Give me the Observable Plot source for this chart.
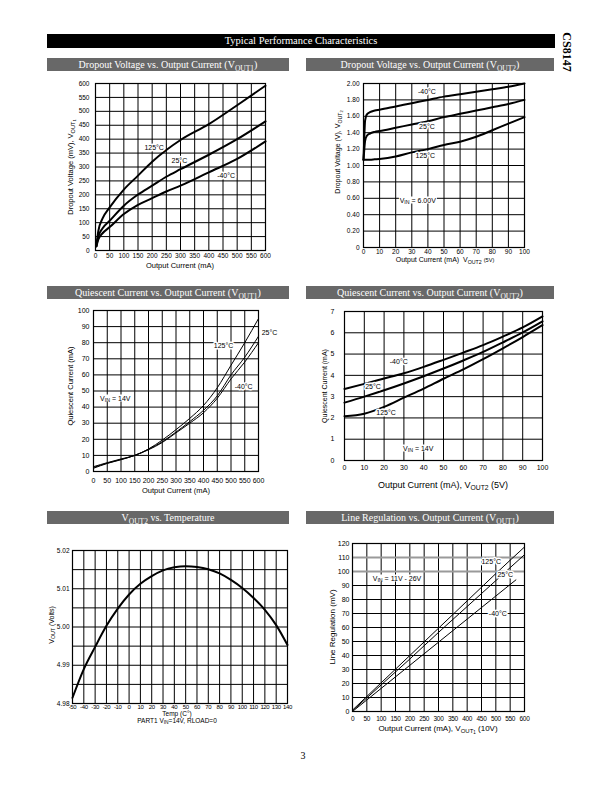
<!DOCTYPE html>
<html><head><meta charset="utf-8">
<script src="https://cdn.jsdelivr.net/npm/d3@7"></script>
<script src="https://cdn.jsdelivr.net/npm/@observablehq/plot@0.6"></script>
<style>
body{margin:0;background:#fff;}
#page{position:relative;width:612px;height:792px;overflow:hidden;font-family:"Liberation Sans",Arial,sans-serif;color:#000;}
.bar{position:absolute;background:#686868;color:#fff;font-family:"Liberation Serif","DejaVu Serif",serif;font-size:10px;text-align:center;line-height:13px;height:13px;white-space:nowrap;}
.hdr{position:absolute;background:#000;color:#fff;font-family:"Liberation Serif",serif;font-size:10.5px;text-align:center;line-height:14px;height:14px;}
.lbl{position:absolute;font-size:7.5px;white-space:nowrap;line-height:1;color:#000;}
.ylbl{transform:translate(-50%,-50%) rotate(-90deg);}
.xlbl{transform:translate(-50%,-50%);}
.note{position:absolute;font-size:7px;white-space:nowrap;line-height:1;background:#fff;padding:0 1px;transform:translate(-50%,-50%);color:#000;}
sub{font-size:75%;vertical-align:-0.35em;line-height:0;}
svg{position:absolute;}
svg.tight g[aria-label="x-axis tick label"] text{letter-spacing:-0.35px;}
</style></head><body><div id="page"></div>
<script>
// ---------- Chart 1: Dropout Voltage vs Output Current (VOUT1) ----------
const c1Current = [3,10,25,50,100,150,200,250,300,400,500,600];
const c1Hot  = [15,70,115,155,219,269,319,361,397,454,522,592];   // 125°C
const c1Room = [15,50,80,107,161,201,233,265,292,344,400,464];    // 25°C
const c1Cold = [15,40,62,84,131,164,188,212,233,281,329,392];     // -40°C
const c1XTicks = [0,50,100,150,200,250,300,350,400,450,500,550,600];
const c1YTicks = [0,50,100,150,200,250,300,350,400,450,500,550,600];

// ---------- Chart 2: Dropout Voltage vs Output Current (VOUT2) ----------
const c2Current = [0,0.5,1,2,4,7,10,20,30,40,50,60,70,80,90,100];
const c2Cold = [1.07,1.35,1.55,1.62,1.65,1.67,1.68,1.72,1.76,1.80,1.84,1.87,1.90,1.93,1.96,2.00];
const c2Room = [1.07,1.20,1.30,1.36,1.39,1.41,1.42,1.46,1.50,1.54,1.59,1.63,1.67,1.71,1.75,1.80];
const c2Hot  = [1.07,1.07,1.07,1.07,1.07,1.075,1.08,1.11,1.16,1.20,1.25,1.29,1.35,1.43,1.51,1.59];
const c2XTicks = [0,10,20,30,40,50,60,70,80,90,100];
const c2YTicks = [0,0.2,0.4,0.6,0.8,1.0,1.2,1.4,1.6,1.8,2.0];

// ---------- Chart 3: Quiescent Current vs Output Current (VOUT1) ----------
const c3Current = [0,50,100,150,200,250,300,350,400,450,500,550,600];
const c3Hot  = [3,5.5,7.8,10,14,19.5,26,33,41,52,66,80,95];
const c3Room = [2.5,5.2,7.5,10,13.8,18.5,24.5,31,38,47,60,71,84];
const c3Cold = [2,5,7.3,10,13.5,18,24,30,36.5,45.5,57.5,68,80];
const c3XTicks = [0,50,100,150,200,250,300,350,400,450,500,550,600];
const c3YTicks = [0,10,20,30,40,50,60,70,80,90,100];

// ---------- Chart 4: Quiescent Current vs Output Current (VOUT2) ----------
const c4Current = [0,10,20,30,40,50,60,70,80,90,100];
const c4Cold = [3.36,3.6,3.85,4.1,4.4,4.73,5.07,5.42,5.82,6.25,6.77];
const c4Room = [2.72,3.0,3.3,3.62,3.96,4.32,4.7,5.1,5.55,6.02,6.54];
const c4Hot  = [2.08,2.2,2.52,2.95,3.38,3.84,4.28,4.76,5.27,5.8,6.36];
const c4XTicks = [0,10,20,30,40,50,60,70,80,90,100];
const c4YTicks = [0,1,2,3,4,5,6,7];

// ---------- Chart 5: VOUT2 vs Temperature ----------
const c5Temp = [-50,-40,-30,-20,-10,0,10,20,30,40,50,60,70,80,90,100,110,120,130,140];
const c5Vout = [4.9815,4.989,4.9948,5.0003,5.0048,5.0085,5.0113,5.0133,5.0148,5.0156,5.0159,5.0157,5.0151,5.0140,5.0123,5.0102,5.0076,5.0045,5.0005,4.9953];
const c5XTicks = [-50,-40,-30,-20,-10,0,10,20,30,40,50,60,70,80,90,100,110,120,130,140];
const c5YGrid = [4.98,4.985,4.99,4.995,5.0,5.005,5.01,5.015,5.02];
const c5YTicks = [4.98,4.99,5.0,5.01,5.02];

// ---------- Chart 6: Line Regulation vs Output Current (VOUT1) ----------
const c6Current = [0,100,200,300,400,500,600];
const c6Hot  = [1,20.5,40,59.5,79,98.5,117.5];
const c6Room = [0.5,19,37.5,56.5,75,93.5,112];
const c6ColdCurrent = [0,100,200,300,400,500,570];
const c6Cold = [0,16.5,33,49.5,66,82.5,94];
const c6XTicks = [0,50,100,150,200,250,300,350,400,450,500,550,600];
const c6YTicks = [0,10,20,30,40,50,60,70,80,90,100,110,120];
const c6GrayLevels = [100,110];

const page = document.getElementById("page");
function rows(xs, ys, s){ return xs.map((x,i)=>({x, y: ys[i], s})); }
function add(html, cls, x, y, style){
  const d = document.createElement("div");
  d.className = cls; d.innerHTML = html;
  d.style.left = x+"px"; d.style.top = y+"px";
  if (style) Object.assign(d.style, style);
  page.appendChild(d); return d;
}

function chart(o){
  const [L,T,R,B] = o.frame;
  const ml=40, mr=45, mt=8, mb=22;
  const plot = Plot.plot({
    width: R-L+ml+mr, height: B-T+mt+mb,
    marginLeft: ml, marginRight: mr, marginTop: mt, marginBottom: mb,
    className: o.cls,
    style: {fontFamily:"Liberation Sans, Arial, sans-serif", color:"#000", background:"transparent", overflow:"visible"},
    x: {domain: o.xDomain},
    y: {domain: o.yDomain},
    marks: [
      Plot.gridX(o.xGrid, {stroke:"#000", strokeOpacity:1, strokeWidth:1}),
      Plot.gridY(o.yGrid, {stroke:"#000", strokeOpacity:1, strokeWidth:1}),
      ...(o.extra || []),
      Plot.frame({stroke:"#000", strokeWidth:1.2}),
      Plot.axisX(o.xTicks, {anchor:"bottom", tickSize:0, tickPadding:o.xPad, fontSize:o.xfs || o.fs, tickFormat:o.xFmt || (d=>String(d)), label:null}),
      Plot.axisY(o.yTicks, {anchor:"left", tickSize:0, tickPadding:o.yPad, fontSize:o.fs, tickFormat:o.yFmt || (d=>String(d)), label:null}),
      Plot.line(o.data, {x:"x", y:"y", z:"s", stroke:"#000", strokeWidth:o.lw, curve:"monotone-x"}),
      Plot.text(o.notes || [], {x:"x", y:"y", text:"t", fontSize:7, fill:"#000", stroke:"#fff", strokeWidth:3, paintOrder:"stroke"})
    ]
  });
  if (o.cls) plot.classList.add(o.cls);
  plot.style.left = (L-ml)+"px"; plot.style.top = (T-mt)+"px";
  page.appendChild(plot);
  const sx = plot.scale("x"), sy = plot.scale("y");
  (o.htmlNotes || []).forEach(n => {
    add(n.html, "note", L-ml+sx.apply(n.x), T-mt+sy.apply(n.y), n.style);
  });
  return plot;
}

// Header & title bars
add("Typical Performance Characteristics", "hdr", 47, 34, {width:"508px"});
add("CS8147", "lbl", 567, 52, {fontFamily:"Liberation Serif, serif", fontWeight:"bold", fontSize:"12px", color:"#000", transform:"translate(-50%,-50%) rotate(90deg)"});
add("Dropout Voltage vs. Output Current (V<sub>OUT1</sub>)", "bar", 47, 58, {width:"242px"});
add("Dropout Voltage vs. Output Current (V<sub>OUT2</sub>)", "bar", 306, 58, {width:"248px"});
add("Quiescent Current vs. Output Current (V<sub>OUT1</sub>)", "bar", 47, 286, {width:"242px"});
add("Quiescent Current vs. Output Current (V<sub>OUT2</sub>)", "bar", 306, 286, {width:"248px"});
add("V<sub>OUT2</sub> vs. Temperature", "bar", 47, 511, {width:"242px"});
add("Line Regulation vs. Output Current (V<sub>OUT1</sub>)", "bar", 306, 511, {width:"248px"});
add("3", "lbl", 303, 756, {fontFamily:"Liberation Serif, serif", fontSize:"10px", transform:"translate(-50%,-50%)", color:"#000"});

// Chart 1
chart({
  frame:[95,83,265,250], xDomain:[0,600], yDomain:[0,600],
  xGrid:c1XTicks, yGrid:c1YTicks, xTicks:c1XTicks, yTicks:c1YTicks,
  fs:6.5, xPad:3, yPad:6, lw:2,
  data:[...rows(c1Current,c1Hot,"125"),...rows(c1Current,c1Room,"25"),...rows(c1Current,c1Cold,"-40")],
  notes:[{x:207,y:370,t:"125°C"},{x:296,y:323,t:"25°C"},{x:461,y:269,t:"-40°C"}]
});
add("Dropout Voltage (mV), V<sub>OUT<sub>1</sub></sub>", "lbl ylbl", 71, 167);
add("Output Current (mA)", "lbl xlbl", 180, 266);

// Chart 2
chart({
  frame:[363,83,524,247], xDomain:[0,100], yDomain:[0,2],
  xGrid:c2XTicks, yGrid:c2YTicks, xTicks:c2XTicks, yTicks:c2YTicks,
  yFmt: d => d===0 ? "0" : d.toFixed(2),
  fs:6.5, xPad:2, yPad:4, lw:2,
  data:[...rows(c2Current,c2Cold,"-40"),...rows(c2Current,c2Room,"25"),...rows(c2Current,c2Hot,"125")],
  notes:[{x:39.4,y:1.90,t:"-40°C"},{x:39.4,y:1.47,t:"25°C"},{x:38.4,y:1.12,t:"125°C"}],
  htmlNotes:[{x:34,y:0.57,html:"V<sub>IN</sub> = 6.00V"}]
});
add("Dropout Voltage (V), V<sub>OUT<sub>2</sub></sub>", "lbl ylbl", 338, 152, {fontSize:"7px"});
add("Output Current (mA)&nbsp; V<sub>OUT2</sub> <span style='font-size:80%'>(5V)</span>", "lbl xlbl", 445, 260, {fontSize:"7px"});

// Chart 3
chart({
  frame:[93,310,258,471], xDomain:[0,600], yDomain:[0,100],
  xGrid:c3XTicks, yGrid:c3YTicks, xTicks:c3XTicks, yTicks:c3YTicks,
  fs:7, xPad:7, yPad:4, lw:1,
  data:[...rows(c3Current,c3Hot,"125"),...rows(c3Current,c3Room,"25"),...rows(c3Current,c3Cold,"-40")],
  notes:[{x:473,y:78,t:"125°C"},{x:640,y:86,t:"25°C"},{x:546,y:52.6,t:"-40°C"}],
  htmlNotes:[{x:81,y:45.5,html:"V<sub>IN</sub> = 14V"}]
});
add("Quiescent Current (mA)", "lbl ylbl", 71, 386);
add("Output Current (mA)", "lbl xlbl", 176, 491);

// Chart 4
chart({
  frame:[344,311,542,460], xDomain:[0,100], yDomain:[0,7],
  xGrid:c4XTicks, yGrid:c4YTicks, xTicks:c4XTicks, yTicks:c4YTicks,
  fs:7, xPad:5, yPad:10, lw:2,
  data:[...rows(c4Current,c4Cold,"-40"),...rows(c4Current,c4Room,"25"),...rows(c4Current,c4Hot,"125")],
  notes:[{x:27.4,y:4.63,t:"-40°C"},{x:14.4,y:3.46,t:"25°C"},{x:21,y:2.26,t:"125°C"}],
  htmlNotes:[{x:37.5,y:0.55,html:"V<sub>IN</sub> = 14V"}]
});
add("Quiescent Current (mA)", "lbl ylbl", 324, 386, {fontSize:"7px"});
add("Output Current (mA), V<sub>OUT2</sub> (5V)", "lbl xlbl", 443, 485, {fontSize:"9px"});

// Chart 5
chart({
  frame:[72,550,287,703], xDomain:[-50,140], yDomain:[4.98,5.02],
  xGrid:c5XTicks, yGrid:c5YGrid, xTicks:c5XTicks, yTicks:c5YTicks,
  yFmt: d => d.toFixed(2),
  fs:6.5, xfs:6, xPad:1, yPad:3, lw:2, cls:"tight",
  data: rows(c5Temp, c5Vout, "vout")
});
add("V<sub>OUT</sub> (Volts)", "lbl ylbl", 51, 625, {fontSize:"7px"});
add("Temp (C°)", "lbl xlbl", 177, 714, {fontSize:"6.5px"});
add("PART1 V<sub>IN</sub>=14V, RLOAD=0", "lbl xlbl", 177, 721, {fontSize:"6.5px"});

// Chart 6
chart({
  frame:[352,543,524,711], xDomain:[0,600], yDomain:[0,120],
  xGrid:c6XTicks, yGrid:c6YTicks, xTicks:c6XTicks, yTicks:c6YTicks,
  fs:7, xfs:6.5, xPad:5, yPad:3, lw:1, cls:"tight",
  extra:[Plot.ruleY(c6GrayLevels, {stroke:"#9a9a9a", strokeWidth:2})],
  data:[...rows(c6Current,c6Hot,"125"),...rows(c6Current,c6Room,"25"),...rows(c6ColdCurrent,c6Cold,"-40")],
  notes:[{x:484,y:107,t:"125°C"},{x:533,y:98,t:"25°C"},{x:507,y:70,t:"-40°C"}],
  htmlNotes:[{x:157,y:95,html:"V<sub>IN</sub> = 11V - 26V"}]
});
add("Line Regulation (mV)", "lbl ylbl", 333, 627, {fontSize:"8px"});
add("Output Current (mA), V<sub>OUT<sub>1</sub></sub> (10V)", "lbl xlbl", 438, 729, {fontSize:"8px"});
</script></body></html>
